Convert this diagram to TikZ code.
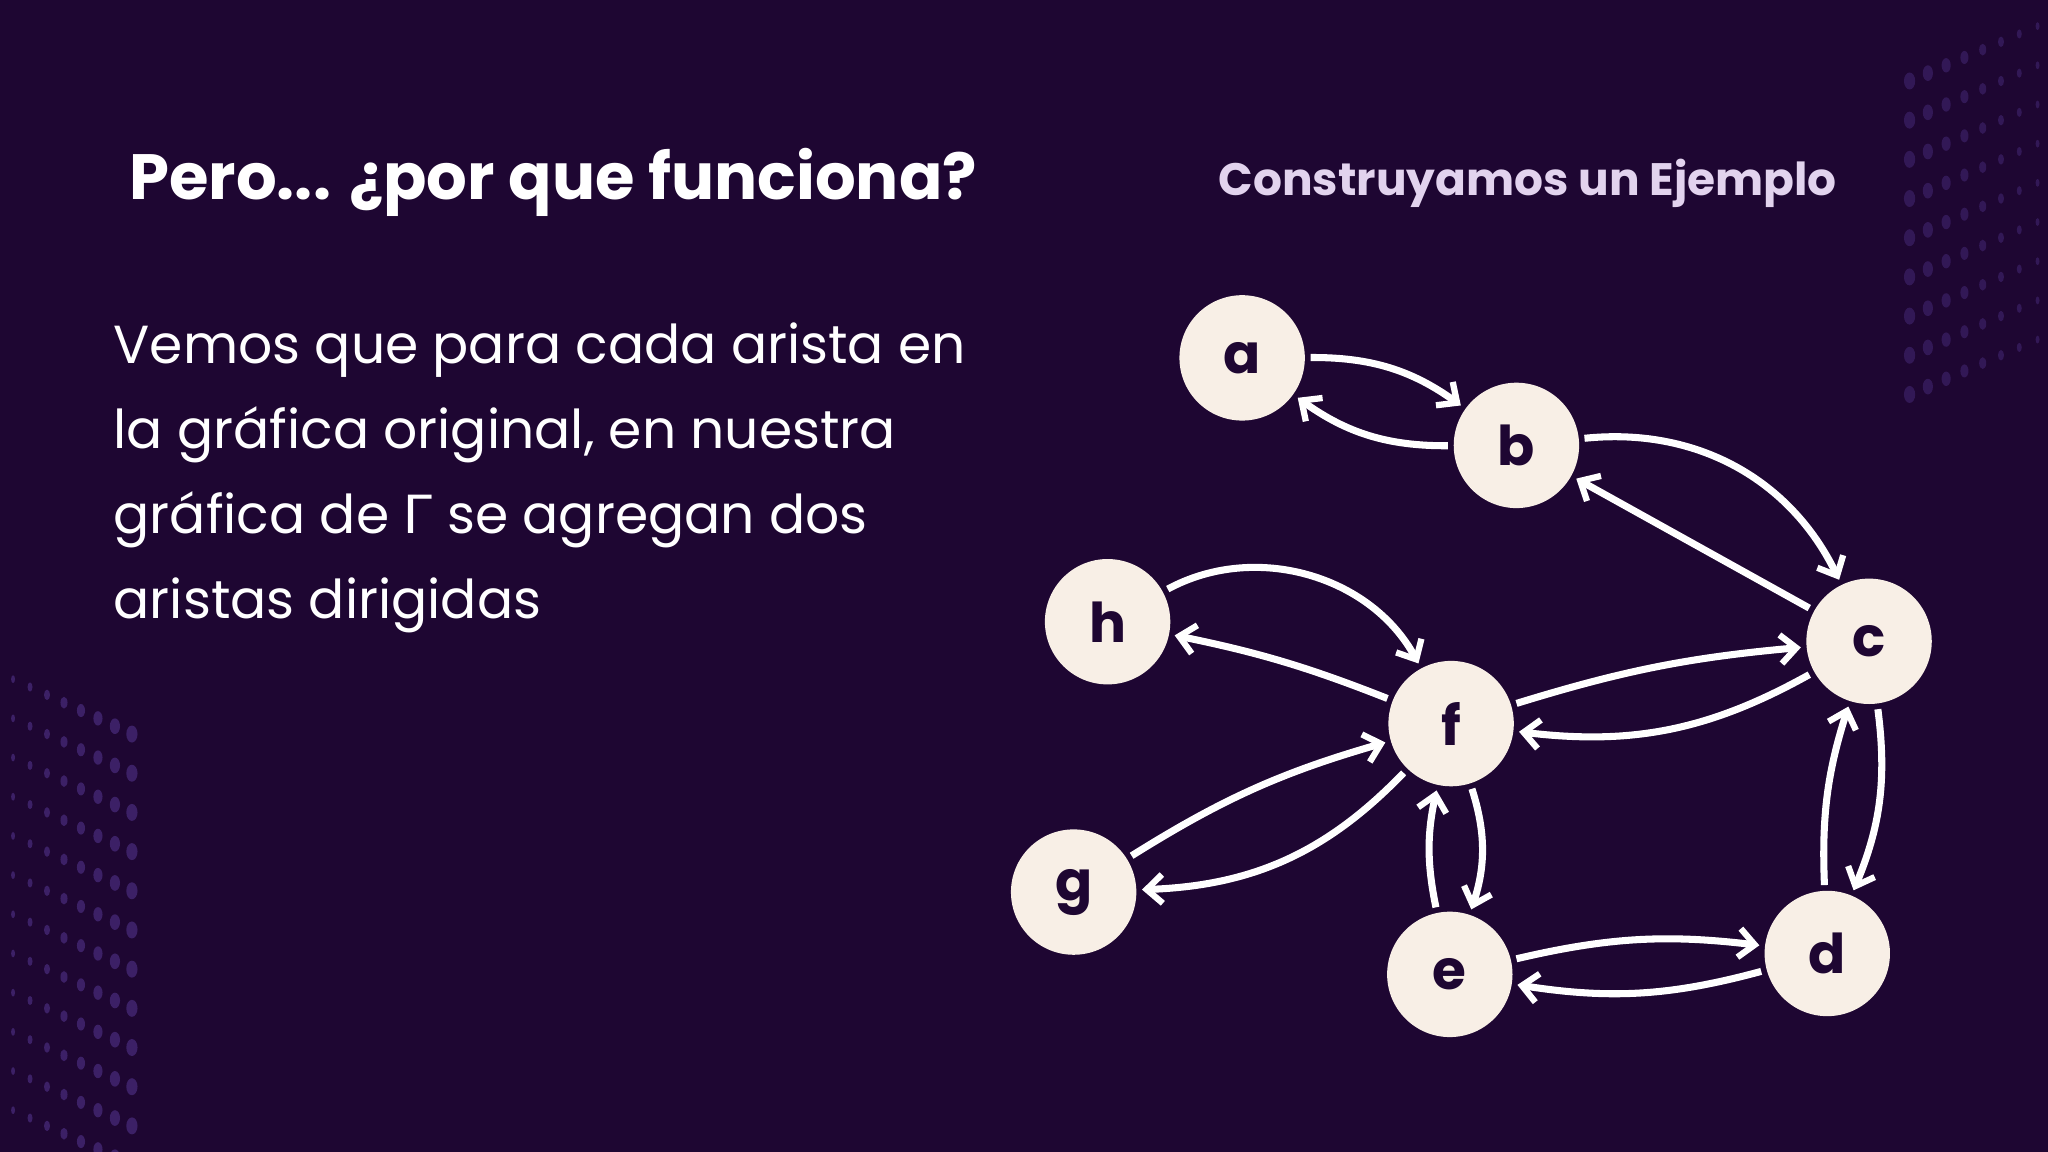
\documentclass[tikz,border=0pt]{standalone}
\usepackage{fontspec}
\setmainfont{Poppins}
\newfontfamily\greekfont{Lato}
\usetikzlibrary{arrows.meta}
\definecolor{bg}{HTML}{1E0632}
\definecolor{nodefill}{HTML}{F8EFE6}
\definecolor{sub}{HTML}{E2D3EE}
\definecolor{dotc}{HTML}{5A3A9A}
\tikzset{
  vert/.style={circle,fill=nodefill,minimum size=48pt,inner sep=0pt,font=\bfseries\fontsize{21}{21}\selectfont,text=bg},
  arc/.style={draw=white,line width=2.7pt,-{Straight Barb[length=6pt,width=11pt,line width=2.4pt]},shorten <=2pt,shorten >=2pt}
}
\begin{document}
\begin{tikzpicture}[x=0.5pt,y=-0.5pt]
\fill[bg] (0,0) rectangle (1568,882);
\useasboundingbox (0,0) rectangle (1568,882);
% decorative dots
\foreach \i in {0,...,7}{\foreach \j in {0,...,11}{
  \fill[dotc,opacity=0.5] (10+\i*13,520+\j*30+\i*6) ellipse ({1.5+\i*0.4} and {3+\i*0.5});
}}
\foreach \i in {0,...,7}{\foreach \j in {0,...,8}{
  \fill[dotc,opacity=0.35] (1560-\i*14,20+\j*30+\i*6) ellipse ({1.5+\i*0.4} and {3+\i*0.5});
}}
\node[anchor=west,text=white,font=\bfseries\fontsize{24.5}{28}\selectfont] (title) at (92,140) {Pero... ¿por que funciona?};
\node[anchor=west,text=sub,font=\bfseries\fontsize{17.4}{20}\selectfont] (subt) at (926,140) {Construyamos un Ejemplo};
\node[anchor=north west,text=white,align=left,font=\fontsize{20.5}{32.5}\selectfont] (body) at (80,240)
 {Vemos que para cada arista en\\la gráfica original, en nuestra\\gráfica de {\greekfont Γ} se agregan dos\\aristas dirigidas};
\node[vert] (a) at (951,274) {a};
\node[vert] (b) at (1161,341) {b};
\node[vert] (c) at (1431,491) {c};
\node[vert] (h) at (848,476) {h};
\node[vert] (f) at (1111,554) {f};
\node[vert] (g) at (822,683) {g};
\node[vert] (e) at (1110,746) {e};
\node[vert] (d) at (1399,730) {d};
\draw[arc] (a) to[bend left=18] (b);
\draw[arc] (b) to[bend left=18] (a);
\draw[arc] (b) to[bend left=35] (c);
\draw[arc] (c) to (b);
\draw[arc] (h) to[bend left=45] (f);
\draw[arc] (f) to[bend right=5] (h);
\draw[arc] (f) to[bend left=6] (c);
\draw[arc] (c) to[bend left=18] (f);
\draw[arc] (g) to[bend left=8] (f);
\draw[arc] (f) to[bend left=22] (g);
\draw[arc] (f) to[bend left=18] (e);
\draw[arc] (e) to[bend left=12] (f);
\draw[arc] (e) to[bend left=10] (d);
\draw[arc] (d) to[bend left=12] (e);
\draw[arc] (c) to[bend left=15] (d);
\draw[arc] (d) to[bend left=10] (c);
\end{tikzpicture}
\end{document}
